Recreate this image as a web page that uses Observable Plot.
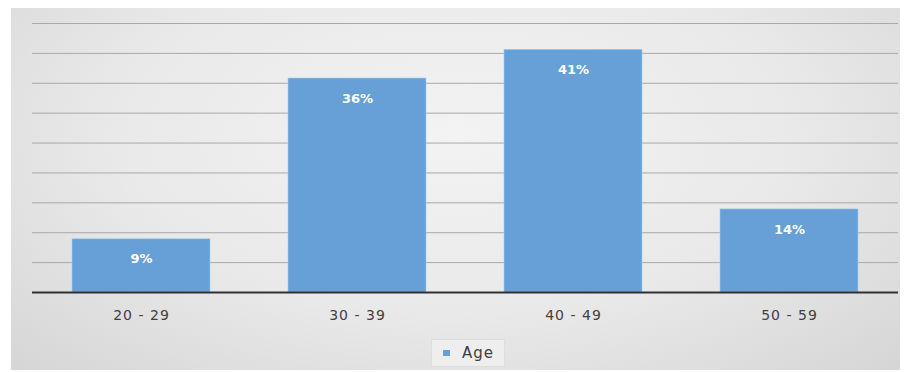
<!DOCTYPE html>
<html>
<head>
<meta charset="utf-8">
<script src="https://cdn.jsdelivr.net/npm/d3@7"></script>
<script src="https://cdn.jsdelivr.net/npm/@observablehq/plot@0.6"></script>
<style>
  html, body { margin: 0; padding: 0; background: #ffffff; }
  #wrap { position: relative; width: 904px; height: 372px; overflow: hidden; }
  #bg { position: absolute; left: 11px; top: 8px; width: 889px; height: 362px;
        background: radial-gradient(ellipse 70% 90% at 50% 35%, #f3f3f3 0%, #e9e9e9 55%, #d6d6d6 100%); }
  #chart { position: absolute; left: 0; top: 0; }
  #legend { position: absolute; left: 431px; top: 339px; width: 74px; height: 28px;
            background: rgba(240,240,240,0.8); border: 1px solid #dedede; box-sizing: border-box;
            font-family: "DejaVu Sans", sans-serif; font-size: 15px; letter-spacing: 1px; color: #404040;
            display: flex; align-items: center; }
  #legend .sw { display: inline-block; width: 7px; height: 6px; background: #67a0d6; margin-left: 11px; margin-right: 12px; }
</style>
</head>
<body>
<div id="wrap">
  <div id="bg"></div>
  <div id="chart"></div>
  <div id="legend"><span class="sw"></span><span>Age</span></div>
</div>
<script>
const categories = ["20 - 29", "30 - 39", "40 - 49", "50 - 59"];
const values = [8.9, 35.8, 40.6, 13.9];
const labels = ["9%", "36%", "41%", "14%"];
const gridTicks = [5, 10, 15, 20, 25, 30, 35, 40, 45];

const data = categories.map((c, i) => ({age: c, value: values[i], label: labels[i]}));

const chart = Plot.plot({
  width: 904,
  height: 372,
  marginLeft: 32,
  marginRight: 6,
  marginTop: 23,
  marginBottom: 80,
  style: {background: "transparent", fontFamily: "DejaVu Sans, sans-serif"},
  x: {domain: categories, paddingInner: 0.36, paddingOuter: 0.18, label: null},
  y: {domain: [0, 45], axis: null},
  marks: [
    Plot.ruleY(gridTicks, {stroke: "#a8a8a8", strokeWidth: 1}),
    Plot.barY(data, {x: "age", y: "value", fill: "#67a0d6", stroke: "#a9cbed", strokeWidth: 0.6}),
    Plot.text(data, {x: "age", y: "value", text: "label", dy: 20, fill: "#ffffff",
      fontWeight: "bold", fontSize: 13, fontFamily: "DejaVu Sans, sans-serif"}),
    Plot.ruleY([0], {stroke: "#303030", strokeWidth: 2}),
    Plot.axisX({tickSize: 0, tickPadding: 18, fontSize: 14, fill: "#404040", label: null})
  ]
});
chart.querySelectorAll("g[aria-label='x-axis tick label'] text").forEach(t => t.style.letterSpacing = "1px");
document.getElementById("chart").appendChild(chart);
</script>
</body>
</html>
